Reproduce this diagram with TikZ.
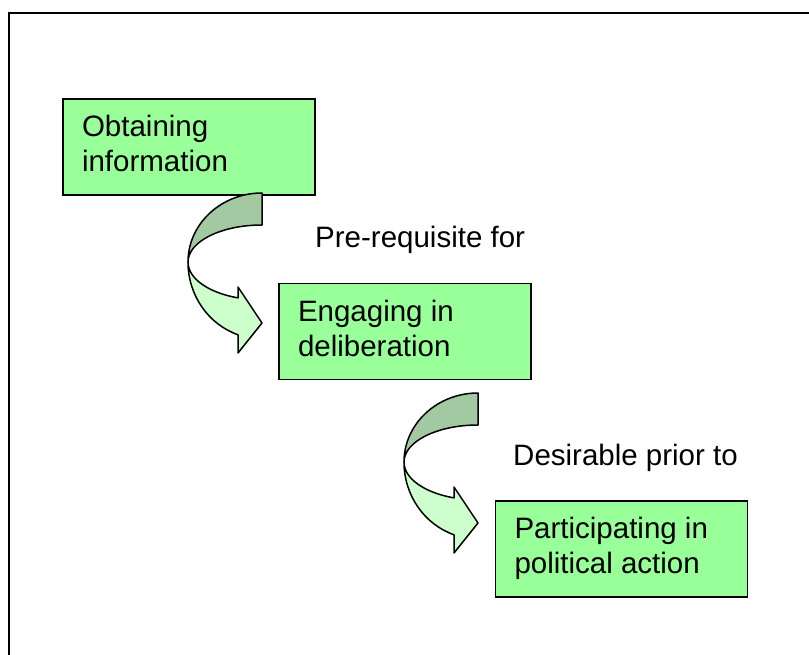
\documentclass[tikz,border=0pt]{standalone}
\usepackage{fontspec}
\setmainfont{Liberation Sans}
\definecolor{boxgreen}{RGB}{153,255,153}
\definecolor{ribbondark}{RGB}{163,201,163}
\definecolor{ribbonlight}{RGB}{204,255,204}
\newcommand{\boxtext}[1]{\parbox[c][96pt][t]{214pt}{\rule{0pt}{37.5pt}#1}}
\tikzset{
  stagebox/.style={draw=black, line width=1.5pt, fill=boxgreen,
    minimum width=252pt, minimum height=96pt, inner xsep=19pt, inner ysep=0pt,
    font=\fontsize{29.5}{35}\selectfont},
  lbl/.style={inner sep=0pt, anchor=base west, font=\fontsize{29.5}{35}\selectfont},
  ribbonline/.style={draw=black, line width=1.5pt, line join=round},
  pics/ribbon/.style={code={
    \filldraw[ribbonline, fill=ribbonlight] (-74,69) .. controls (-74,102) and (-54,131.1) .. (-24,141.8)
      -- (-24,160) -- (0,130) -- (-24,94) -- (-24,104.9)
      .. controls (-54,99.6) and (-74,85.3) .. cycle;
    \filldraw[ribbonline, fill=ribbondark] (0,0) .. controls (-40.9,0) and (-74,30.9) .. (-74,69)
      .. controls (-74,48.6) and (-40.9,32) .. (0,32) -- cycle;
  }}
}
\begin{document}
\begin{tikzpicture}[x=1pt, y=-1pt]
  \useasboundingbox (0,0) rectangle (809,655);
  \fill[white] (0,0) rectangle (809,655);
  \draw[line width=2pt] (9,655) -- (9,13) -- (809,13);
  \node[stagebox] (obtain) at (189,147) {\boxtext{Obtaining\\information}};
  \node[stagebox] (engage) at (405,331.5) {\boxtext{Engaging in\\deliberation}};
  \node[stagebox] (partic) at (621.5,549) {\boxtext{Participating in\\political action}};
  \pic at (262,193) {ribbon};
  \pic at (478,393) {ribbon};
  \node[lbl] (prereq) at (315,248) {Pre-requisite for};
  \node[lbl] (desir) at (513,465) {Desirable prior to};
\end{tikzpicture}
\end{document}
